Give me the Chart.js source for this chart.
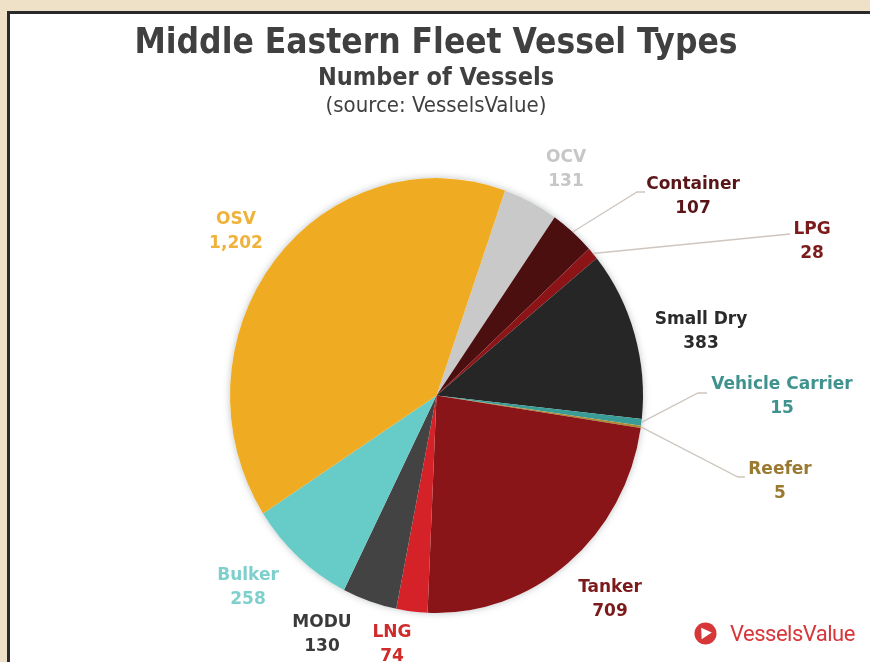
<!DOCTYPE html>
<html>
<head>
<meta charset="utf-8">
<title>Middle Eastern Fleet Vessel Types</title>
<script src="https://cdn.jsdelivr.net/npm/chart.js@4.4.1/dist/chart.umd.min.js"></script>
<style>
    html, body { margin: 0; padding: 0; }
    body { width: 870px; height: 662px; background: #eee1c7; overflow: hidden; position: relative; }
    .panel {
        position: absolute; left: 7px; top: 11px; right: -10px; bottom: -10px;
        background: #fff; border: 3px solid #2a2a2a;
    }
    .wrap { position: absolute; left: 0; top: 0; width: 870px; height: 662px; }
    .heading {
        position: absolute; left: 0; width: 872px; text-align: center; color: #404040;
        font-family: "DejaVu Sans Condensed", "DejaVu Sans", sans-serif; font-stretch: condensed;
        white-space: nowrap;
    }
    .title { top: 21px; font-size: 35px; font-weight: bold; }
    .subtitle { top: 62px; font-size: 25px; font-weight: bold; }
    .source { top: 92px; font-size: 22px; font-weight: normal; }
    .logo {
        position: absolute; left: 694px; top: 619px; height: 28px;
        display: flex; align-items: center; gap: 13px;
        font-family: Roboto, "Liberation Sans", sans-serif; font-size: 22px; color: #d6383a;
        letter-spacing: -0.5px;
    }
</style>
</head>
<body>
<div class="panel"></div>
<div class="wrap"><canvas id="fleet-chart"></canvas></div>
<div class="heading title">Middle Eastern Fleet Vessel Types</div>
<div class="heading subtitle">Number of Vessels</div>
<div class="heading source">(source: VesselsValue)</div>
<div class="logo">
    <svg width="23" height="23" viewBox="0 0 24 24">
        <circle cx="12" cy="12" r="11.5" fill="#d6383a"/>
        <path d="M7.5 6 L18.5 11 L8 18 Z" fill="#fff"/>
    </svg>
    <span>VesselsValue</span>
</div>
<script>
// Vessel counts, clockwise from the top of the pie
const vesselTypes = ['OCV', 'Container', 'LPG', 'Small Dry', 'Vehicle Carrier', 'Reefer',
    'Tanker', 'LNG', 'MODU', 'Bulker', 'OSV'];
const vesselCounts = [131, 107, 28, 383, 15, 5, 709, 74, 130, 258, 1202];

const sliceColors = ['#c9c9c9', '#4b0f10', '#8c1417', '#262626', '#3a9c96', '#b08a30',
    '#8a1518', '#d42228', '#434343', '#67ccc7', '#efac22'];

// pie is drawn slightly taller than wide
const STRETCH_Y = 1.053;

// label anchors (centre of the name line) and optional leader elbows
const labelLayout = {
    'OCV':             { x: 566, y: 158, color: '#c6c6c6' },
    'Container':       { x: 693, y: 185, color: '#5a1518', leader: [[637, 192], [645, 192]] },
    'LPG':             { x: 812, y: 230, color: '#7c1a1c', leader: [[790, 234]] },
    'Small Dry':       { x: 701, y: 320, color: '#2a2a2a' },
    'Vehicle Carrier': { x: 782, y: 385, color: '#3f928e', leader: [[698, 393], [707, 393]] },
    'Reefer':          { x: 780, y: 470, color: '#9a7a30', leader: [[738, 477], [745, 477]] },
    'Tanker':          { x: 610, y: 588, color: '#7c1a1c' },
    'LNG':             { x: 392, y: 633, color: '#d02a2a' },
    'MODU':            { x: 322, y: 623, color: '#3a3a3a' },
    'Bulker':          { x: 248, y: 576, color: '#7fd0cc' },
    'OSV':             { x: 236, y: 220, color: '#efb23a' },
};

const pieShape = {
    id: 'pieShape',
    beforeDatasetsDraw(chart) {
        const { x, y, outerRadius } = chart.getDatasetMeta(0).data[0];
        const ctx = chart.ctx;
        ctx.save();
        ctx.translate(x, y);
        ctx.scale(1, STRETCH_Y);
        ctx.translate(-x, -y);
        // soft halo under the pie
        ctx.save();
        ctx.shadowColor = 'rgba(70,80,90,0.35)';
        ctx.shadowBlur = 7;
        ctx.beginPath();
        ctx.arc(x, y, outerRadius, 0, Math.PI * 2);
        ctx.fillStyle = '#fff';
        ctx.fill();
        ctx.restore();
    },
    afterDatasetsDraw(chart) {
        chart.ctx.restore();
    }
};

const sliceLabels = {
    id: 'sliceLabels',
    afterDraw(chart) {
        const ctx = chart.ctx;
        const meta = chart.getDatasetMeta(0);
        ctx.save();
        meta.data.forEach((arc, i) => {
            const name = vesselTypes[i];
            const lay = labelLayout[name];
            if (!lay) return;

            if (lay.leader) {
                const a = (arc.startAngle + arc.endAngle) / 2;
                const sx = arc.x + arc.outerRadius * Math.cos(a);
                const sy = arc.y + arc.outerRadius * STRETCH_Y * Math.sin(a);
                ctx.beginPath();
                ctx.moveTo(sx, sy);
                lay.leader.forEach(([px, py]) => ctx.lineTo(px, py));
                ctx.strokeStyle = '#cfc6bf';
                ctx.lineWidth = 1.3;
                ctx.stroke();
            }

            ctx.fillStyle = lay.color;
            ctx.font = 'bold 17px Verdana, "DejaVu Sans", sans-serif';
            ctx.textAlign = 'center';
            ctx.textBaseline = 'middle';
            ctx.fillText(name, lay.x, lay.y);
            ctx.fillText(vesselCounts[i].toLocaleString('en-US'), lay.x, lay.y + 24);
        });
        ctx.restore();
    }
};

new Chart(document.getElementById('fleet-chart'), {
    type: 'pie',
    data: {
        labels: vesselTypes,
        datasets: [{
            data: vesselCounts,
            backgroundColor: sliceColors,
            borderWidth: 0,
            hoverOffset: 0,
            clip: false,
        }]
    },
    options: {
        responsive: true,
        maintainAspectRatio: false,
        animation: false,
        events: [],
        rotation: 19.4,
        layout: { padding: { left: 230, right: 227, top: 189, bottom: 60 } },
        plugins: {
            legend: { display: false },
            tooltip: { enabled: false },
        }
    },
    plugins: [pieShape, sliceLabels]
});
</script>
</body>
</html>
